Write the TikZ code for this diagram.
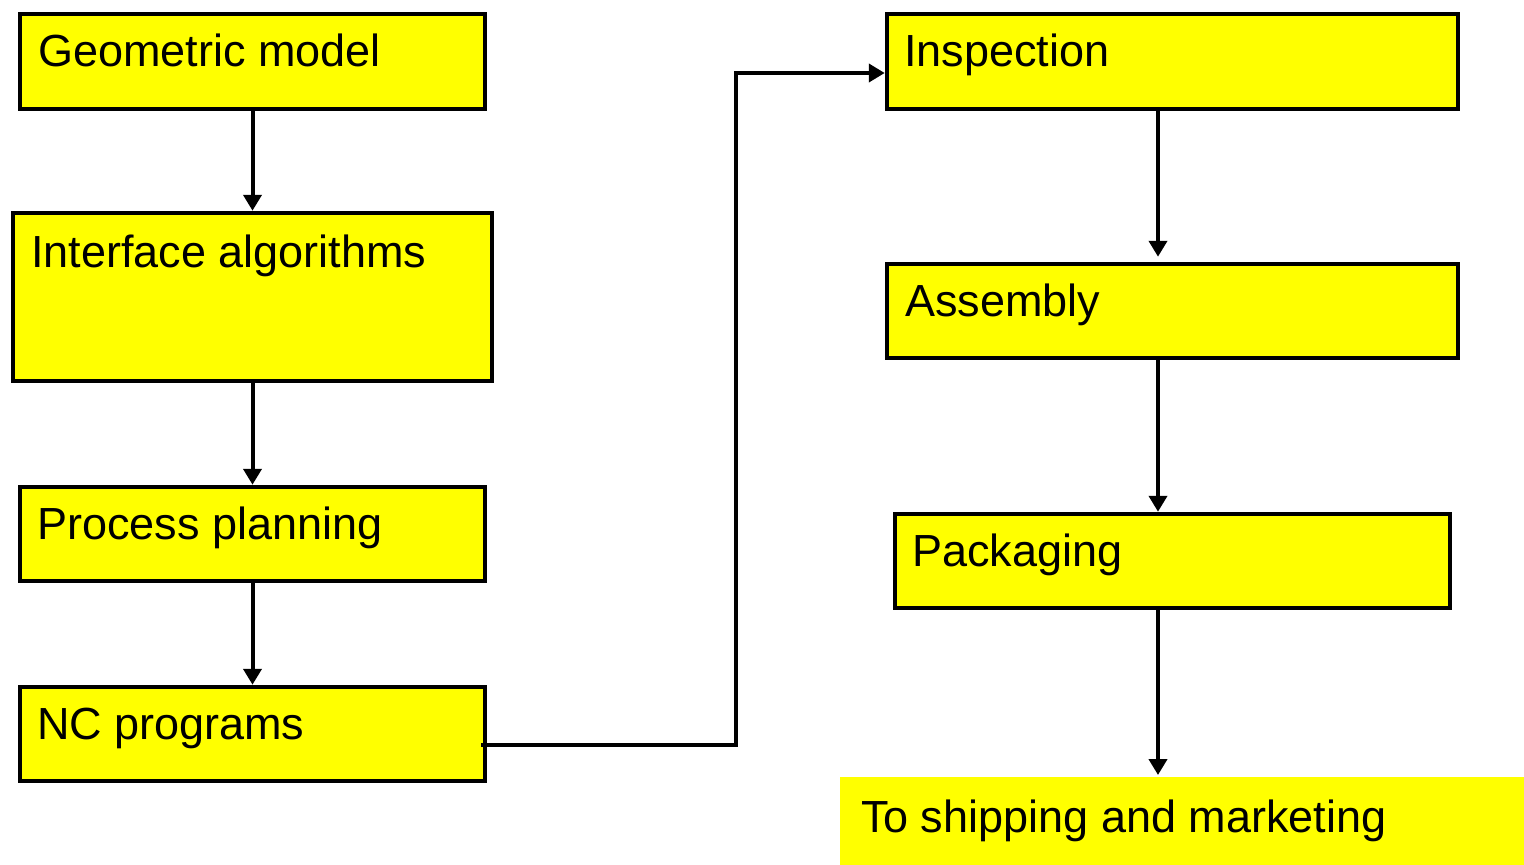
\documentclass[tikz,border=0pt]{standalone}
\usepackage{fontspec}
\setmainfont{Liberation Sans}
\usetikzlibrary{arrows.meta}
\definecolor{boxyellow}{RGB}{255,255,0}
\begin{document}
\begin{tikzpicture}[x=1pt,y=-1pt,
  box/.style={draw=black, fill=boxyellow, line width=4.5pt, rectangle, inner sep=0pt},
  plain/.style={fill=boxyellow, rectangle, inner sep=0pt, outer sep=0pt},
  lbl/.style={anchor=base west, inner sep=0pt, outer sep=0pt, text=black,
              font=\fontsize{45}{54}\selectfont},
  flow/.style={draw=black, line width=4pt, -{Triangle[width=18pt,length=16pt]}}]
  \useasboundingbox (0,0) rectangle (1524,865);

  % left column
  \node[box, minimum width=465pt, minimum height=95pt]  (geo)  at (252.5,61.5) {};
  \node[box, minimum width=479pt, minimum height=168pt] (intf) at (252.5,297)  {};
  \node[box, minimum width=465pt, minimum height=94pt]  (proc) at (252.5,534)  {};
  \node[box, minimum width=465pt, minimum height=94pt]  (nc)   at (252.5,734)  {};

  % right column
  \node[box, minimum width=571pt, minimum height=95pt]  (insp) at (1172.5,61.5) {};
  \node[box, minimum width=571pt, minimum height=94pt]  (asm)  at (1172.5,311)  {};
  \node[box, minimum width=555pt, minimum height=94pt]  (pack) at (1172.5,561)  {};
  \node[plain, minimum width=684pt, minimum height=88pt] (ship) at (1182,821)   {};

  % labels
  \node[lbl] (geoT)  at (38,66)   {Geometric model};
  \node[lbl] (intfT) at (31,267)  {Interface algorithms};
  \node[lbl] (procT) at (37,539)  {Process planning};
  \node[lbl] (ncT)   at (37,739)  {NC programs};
  \node[lbl] (inspT) at (904,66)  {Inspection};
  \node[lbl] (asmT)  at (905,316) {Assembly};
  \node[lbl] (packT) at (912,566) {Packaging};
  \node[lbl] (shipT) at (861,832) {To shipping and marketing};

  % connectors
  \coordinate (rc) at (1158,0);
  \coordinate (bend) at (736,73);
  \draw[flow] ([yshift=4pt]geo.south)  -- (intf.north);
  \draw[flow] ([yshift=4pt]intf.south) -- (proc.north);
  \draw[flow] ([yshift=4pt]proc.south) -- (nc.north);
  \draw[flow] ([xshift=-6pt,yshift=-11pt]nc.east) -| (bend) -- (insp.west |- bend);
  \draw[flow] ([yshift=4pt]insp.south -| rc) -- ([yshift=5pt]asm.north -| rc);
  \draw[flow] ([yshift=4pt]asm.south -| rc)  -- (pack.north -| rc);
  \draw[flow] ([yshift=4pt]pack.south -| rc) -- ([yshift=2pt]ship.north -| rc);
\end{tikzpicture}
\end{document}
